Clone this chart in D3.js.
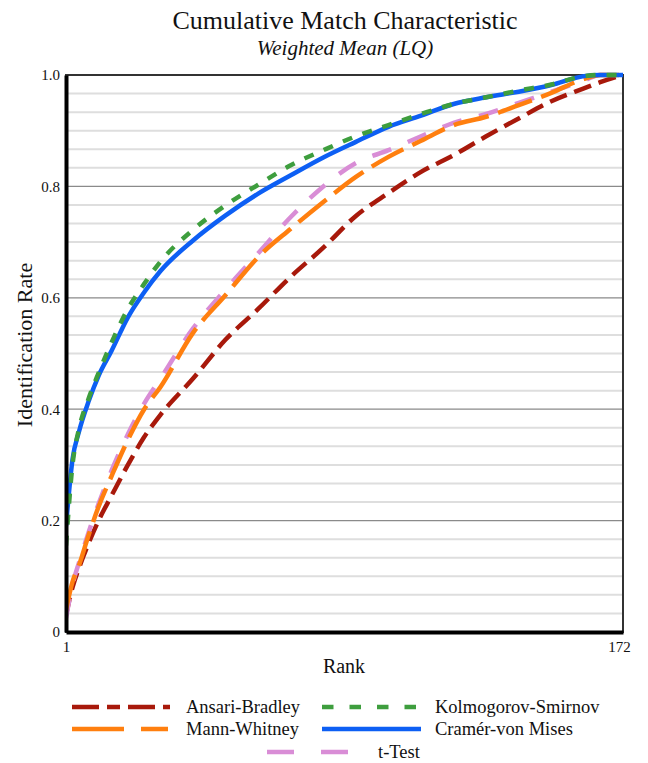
<!DOCTYPE html>
<html>
<head>
<meta charset="utf-8">
<script src="https://cdn.jsdelivr.net/npm/d3@7"></script>
<style>
	body { margin: 0; background: #fff; }
	.chart { width: 648px; height: 763px; }
	text { font-family: "Liberation Serif", "DejaVu Serif", serif; fill: #111; }
</style>
</head>
<body>
<div class="chart"></div>
<script>
// rank grid the curves were read at
var ranks = [1, 3, 5, 8, 11, 15, 20, 25, 30, 40, 50, 60, 70, 80, 90, 100, 110, 120, 130, 140, 150, 160, 165, 172];

var ansariBradley = [0.03, 0.08, 0.115, 0.16, 0.2, 0.245, 0.3, 0.35, 0.39, 0.455, 0.525, 0.58, 0.638, 0.69, 0.747, 0.788, 0.826, 0.856, 0.89, 0.922, 0.953, 0.976, 0.987, 1.0];
var mannWhitney = [0.04, 0.09, 0.12, 0.175, 0.225, 0.28, 0.345, 0.4, 0.44, 0.537, 0.605, 0.673, 0.724, 0.772, 0.817, 0.853, 0.882, 0.91, 0.925, 0.946, 0.968, 0.993, 1.0, 1.0];
var tTest = [0.025, 0.085, 0.125, 0.18, 0.23, 0.29, 0.355, 0.41, 0.455, 0.545, 0.615, 0.68, 0.745, 0.8, 0.842, 0.865, 0.89, 0.914, 0.93, 0.95, 0.97, 0.99, 1.0, 1.0];
var kolmogorovSmirnov = [0.155, 0.3, 0.365, 0.42, 0.465, 0.52, 0.58, 0.625, 0.665, 0.722, 0.766, 0.803, 0.838, 0.865, 0.89, 0.91, 0.93, 0.948, 0.96, 0.972, 0.983, 0.998, 1.0, 1.0];
var cramerVonMises = [0.19, 0.31, 0.36, 0.415, 0.46, 0.505, 0.565, 0.61, 0.648, 0.703, 0.748, 0.787, 0.82, 0.852, 0.88, 0.907, 0.927, 0.948, 0.96, 0.97, 0.982, 0.998, 1.0, 1.0];

var yTicks = [0, 0.2, 0.4, 0.6, 0.8, 1.0];
var yTickLabels = ["0", "0.2", "0.4", "0.6", "0.8", "1.0"];
var xTicks = [1, 172];

;(function(window, document, undefined) {

	'use strict';

	var series = [
		{ name: 'Ansari-Bradley', values: ansariBradley, color: '#a8190b', dash: '18,8' },
		{ name: 't-Test', values: tTest, color: '#d98dd6', dash: '20,18' },
		{ name: 'Mann-Whitney', values: mannWhitney, color: '#ff7f0f', dash: '36,10' },
		{ name: 'Cramér-von Mises', values: cramerVonMises, color: '#0d5ff4', dash: null },
		{ name: 'Kolmogorov-Smirnov', values: kolmogorovSmirnov, color: '#3e9e3e', dash: '10,11' }
	];

	function init() {
		render();
	}

	function render() {
		var margin = { top: 75, left: 66 };
		var w = 557, h = 557;

		var svg = d3.select('.chart')
			.append('svg')
			.attr('width', 648)
			.attr('height', 763);

		var x = d3.scaleLinear().domain([1, 172]).range([margin.left, margin.left + w]);
		var y = d3.scaleLinear().domain([0, 1]).range([margin.top + h, margin.top]);

		// titles
		svg.append('text')
			.attr('x', 345).attr('y', 29)
			.attr('text-anchor', 'middle')
			.style('font-size', '26px')
			.text('Cumulative Match Characteristic');
		svg.append('text')
			.attr('x', 345).attr('y', 55)
			.attr('text-anchor', 'middle')
			.style('font-size', '21px')
			.style('font-style', 'italic')
			.text('Weighted Mean (LQ)');

		// minor grid every 1/30
		var minor = d3.range(1, 30).map(function(i) { return i / 30; })
			.filter(function(v) { return Math.abs(v * 5 - Math.round(v * 5)) > 1e-6; });
		svg.append('g').selectAll('line')
			.data(minor)
			.enter()
			.append('line')
			.attr('x1', x(1)).attr('x2', x(172))
			.attr('y1', function(d) { return y(d); })
			.attr('y2', function(d) { return y(d); })
			.attr('stroke', '#dedede')
			.attr('stroke-width', 2);

		svg.append('g').selectAll('line')
			.data(yTicks.slice(1, -1))
			.enter()
			.append('line')
			.attr('x1', x(1)).attr('x2', x(172))
			.attr('y1', function(d) { return y(d); })
			.attr('y2', function(d) { return y(d); })
			.attr('stroke', '#8a8a8a')
			.attr('stroke-width', 1.2);

		// frame: thin top/right, thick left/bottom
		svg.append('rect')
			.attr('x', x(1)).attr('y', y(1))
			.attr('width', w).attr('height', h)
			.attr('fill', 'none')
			.attr('stroke', '#333')
			.attr('stroke-width', 2);

		svg.append('clipPath').attr('id', 'plot')
			.append('rect')
			.attr('x', x(1)).attr('y', y(1) - 3)
			.attr('width', w).attr('height', h + 3);

		var line = d3.line()
			.x(function(d) { return x(d[0]); })
			.y(function(d) { return y(d[1]); })
			.curve(d3.curveMonotoneX);

		svg.append('g')
			.attr('clip-path', 'url(#plot)')
			.selectAll('path')
			.data(series)
			.enter()
			.append('path')
			.attr('d', function(s) {
				return line(ranks.map(function(r, i) { return [r, s.values[i]]; }));
			})
			.attr('fill', 'none')
			.attr('stroke', function(s) { return s.color; })
			.attr('stroke-width', 4.5)
			.attr('stroke-dasharray', function(s) { return s.dash; });

		var yAxis = d3.axisLeft(y)
			.tickValues(yTicks)
			.tickFormat(function(d, i) { return yTickLabels[i]; })
			.tickSize(0)
			.tickPadding(6);
		var gy = svg.append('g').attr('transform', 'translate(' + x(1) + ',0)').call(yAxis);
		gy.select('.domain').attr('stroke', '#000').attr('stroke-width', 4);
		gy.selectAll('text').style('font-size', '15px').style('font-family', '"Liberation Serif", serif');

		var xAxis = d3.axisBottom(x)
			.tickValues(xTicks)
			.tickSize(0)
			.tickPadding(9);
		var gx = svg.append('g').attr('transform', 'translate(0,' + y(0) + ')').call(xAxis);
		gx.select('.domain').attr('stroke', '#000').attr('stroke-width', 4);
		gx.selectAll('text').style('font-size', '15px').style('font-family', '"Liberation Serif", serif');
		gx.selectAll('text').filter(function(d) { return d === 172; }).attr('dx', '-4');

		svg.append('text')
			.attr('x', 344).attr('y', 673)
			.attr('text-anchor', 'middle')
			.style('font-size', '20px')
			.text('Rank');

		svg.append('text')
			.attr('transform', 'translate(32,345) rotate(-90)')
			.attr('text-anchor', 'middle')
			.style('font-size', '22px')
			.text('Identification Rate');

		// legend
		var legend = [
			{ s: series[0], x: 72, len: 98, y: 707, tx: 186, dash: '27,8,13,8' },
			{ s: series[4], x: 322, len: 95, y: 707, tx: 435, dash: '11.5,16' },
			{ s: series[2], x: 72, len: 96, y: 729, tx: 186, dash: '52,17' },
			{ s: series[3], x: 322, len: 99, y: 729, tx: 435, dash: null },
			{ s: series[1], x: 267, len: 81, y: 752, tx: 378, dash: '27,27' }
		];
		var lg = svg.append('g').selectAll('g')
			.data(legend)
			.enter()
			.append('g');
		lg.append('line')
			.attr('x1', function(d) { return d.x; })
			.attr('x2', function(d) { return d.x + d.len; })
			.attr('y1', function(d) { return d.y; })
			.attr('y2', function(d) { return d.y; })
			.attr('stroke', function(d) { return d.s.color; })
			.attr('stroke-width', 4.5)
			.attr('stroke-dasharray', function(d) { return d.dash; });
		lg.append('text')
			.attr('x', function(d) { return d.tx; })
			.attr('y', function(d) { return d.y + 6; })
			.style('font-size', '18.5px')
			.text(function(d) { return d.s.name; });
	}

	init();

})(window, document);
</script>
</body>
</html>
